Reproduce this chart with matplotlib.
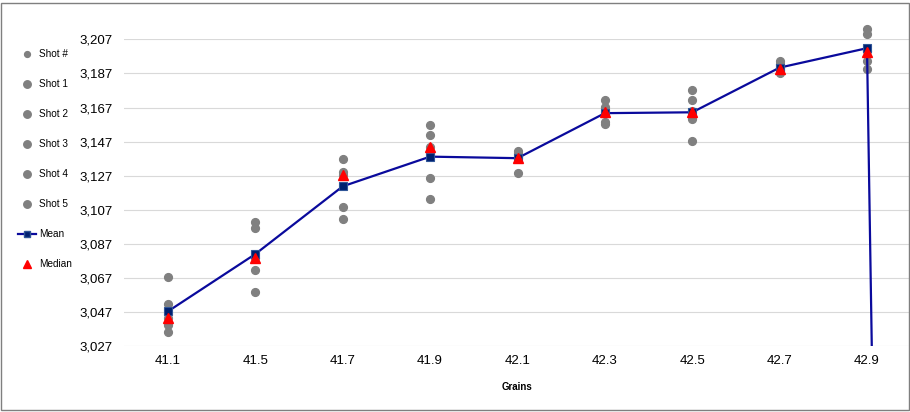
import matplotlib
matplotlib.use("Agg")
import matplotlib.pyplot as plt
from matplotlib.lines import Line2D
from matplotlib.patches import Rectangle
from matplotlib.ticker import FuncFormatter

plt.rcParams['font.family'] = ['Liberation Sans', 'DejaVu Sans']

categories = ['41.1', '41.5', '41.7', '41.9', '42.1', '42.3', '42.5', '42.7', '42.9']
shot1 = [3067.5, 3099.9, 3136.7, 3156.6, 3141.5, 3171.5, 3177.1, 3194.0, 3213.0]
shot2 = [3051.8, 3096.2, 3129.4, 3151.1, 3140.2, 3167.2, 3171.3, 3192.5, 3210.2]
shot3 = [3043.4, 3078.6, 3127.5, 3144.1, 3138.0, 3164.2, 3165.0, 3190.0, 3200.0]
shot4 = [3039.3, 3071.6, 3108.7, 3125.5, 3137.5, 3158.4, 3160.1, 3189.0, 3194.2]
shot5 = [3035.2, 3058.7, 3101.7, 3113.2, 3128.6, 3157.2, 3147.2, 3187.5, 3189.5]
# mean series has an extra (empty -> 0) cell after 42.9, off the visible axis
mean = [3047.5, 3081.1, 3120.8, 3138.2, 3137.3, 3163.7, 3164.2, 3190.4, 3201.8, 0]
median = [3043.4, 3078.6, 3127.3, 3144.1, 3137.3, 3164.2, 3164.6, 3189.5, 3199.8]
yticks = [3027, 3047, 3067, 3087, 3107, 3127, 3147, 3167, 3187, 3207]

W, H = 910, 412
fig = plt.figure(figsize=(W / 100, H / 100), dpi=100)
left, right, top, bottom = 124.3, 910.7, 39.3, 346.3
ax = fig.add_axes([left / W, 1 - bottom / H, (right - left) / W, (bottom - top) / H])

x = list(range(len(categories)))
gray = '#808080'
for s in [shot1, shot2, shot3, shot4, shot5]:
    ax.plot(x, s, linestyle='none', marker='o', ms=5.6, color=gray, clip_on=False, zorder=3)

xm = list(range(len(mean)))
ax.plot(xm, mean, color='#0A0A9C', lw=1.6, marker='s', ms=5.2, mfc='#00206F',
        mec='#2F5597', mew=0.8, zorder=4, markevery=list(range(len(categories))))
ax.plot(x, median, linestyle='none', marker='^', ms=6.5, color='#FF0000', zorder=5, clip_on=False)

ax.set_xlim(-0.5, len(categories) - 0.5)
ax.set_ylim(yticks[0], yticks[-1])
ax.set_yticks(yticks)
ax.yaxis.set_major_formatter(FuncFormatter(lambda v, p: f"{v:,.0f}"))
ax.set_xticks(x)
ax.set_xticklabels(categories)
ax.tick_params(axis='both', length=0, labelsize=9.5, colors='#000000')
ax.tick_params(axis='y', pad=8.5)
ax.tick_params(axis='x', pad=6)
ax.grid(axis='y', color='#D9D9D9', lw=0.8)
ax.set_axisbelow(True)
for sp in ax.spines.values():
    sp.set_visible(False)

fig.text(517 / W, 1 - 387 / H, 'Grains', ha='center', va='center', fontsize=7, fontweight='bold')

# legend
handles = [
    Line2D([], [], linestyle='none', marker='o', ms=4.2, color=gray),
    Line2D([], [], linestyle='none', marker='o', ms=5.4, color=gray),
    Line2D([], [], linestyle='none', marker='o', ms=5.4, color=gray),
    Line2D([], [], linestyle='none', marker='o', ms=5.4, color=gray),
    Line2D([], [], linestyle='none', marker='o', ms=5.4, color=gray),
    Line2D([], [], linestyle='none', marker='o', ms=5.4, color=gray),
    Line2D([], [], color='#0A0A9C', lw=1.6, marker='s', ms=5, mfc='#00206F', mec='#2F5597'),
    Line2D([], [], linestyle='none', marker='^', ms=5.4, color='#FF0000'),
]
labels = ['Shot #', 'Shot 1', 'Shot 2', 'Shot 3', 'Shot 4', 'Shot 5', 'Mean', 'Median']
fig.legend(handles, labels, loc='upper left', bbox_to_anchor=(18 / W, 1 - 49 / H),
           frameon=False, fontsize=7.2, handlelength=1.75, handletextpad=0.35,
           labelspacing=2.0, borderpad=0, borderaxespad=0)

fig.add_artist(Rectangle((0.5 / W, 2.5 / H), (W - 1.5) / W, (H - 5) / H, transform=fig.transFigure,
                         fill=False, edgecolor='#7F7F7F', lw=1.0))

fig.savefig('out.png', dpi=100)
